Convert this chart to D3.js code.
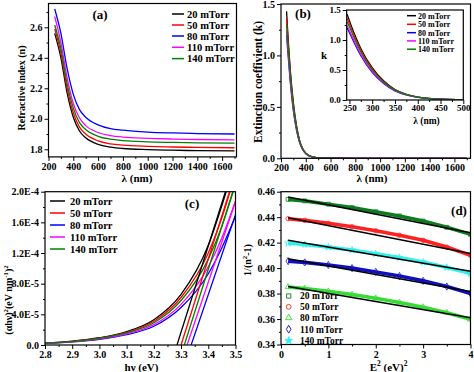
<!DOCTYPE html>
<html>
<head>
<meta charset="utf-8">
<script src="https://cdn.jsdelivr.net/npm/d3@7/dist/d3.min.js"></script>
<style>
body { margin: 0; background: #fff; }
svg text { font-family: "Liberation Serif", "Times New Roman", serif; font-weight: bold; fill: #000; }
</style>
</head>
<body>
<svg id="chart" width="474" height="372"></svg>
<script>
// ---- data ----
var seriesNames = ["20 mTorr", "50 mTorr", "80 mTorr", "110 mTorr", "140 mTorr"];
var lineColors = ["#000000", "#ff0000", "#0000ff", "#ff00ff", "#008000"];

// (a) refractive index n vs wavelength
var lambdaN = [250, 300, 350, 400, 450, 500, 600, 700, 800, 1000, 1200, 1400, 1700];
var n20 = [2.56, 2.40, 2.17, 2.01, 1.92, 1.875, 1.832, 1.814, 1.805, 1.798, 1.794, 1.791, 1.789];
var n50 = [2.59, 2.43, 2.20, 2.04, 1.945, 1.90, 1.855, 1.836, 1.827, 1.819, 1.815, 1.812, 1.810];
var n80 = [2.72, 2.56, 2.33, 2.16, 2.06, 2.01, 1.96, 1.935, 1.925, 1.913, 1.907, 1.903, 1.900];
var n110 = [2.67, 2.50, 2.27, 2.10, 2.005, 1.955, 1.91, 1.89, 1.88, 1.872, 1.867, 1.864, 1.862];
var n140 = [2.615, 2.46, 2.23, 2.07, 1.975, 1.93, 1.885, 1.866, 1.857, 1.849, 1.845, 1.842, 1.840];

// (b) extinction coefficient k vs wavelength
var lambdaK = [245, 250, 260, 275, 300, 325, 350, 375, 400, 450, 500, 600, 800, 1000, 1200, 1400, 1700];
var k20 = [1.43, 1.32, 1.12, 0.86, 0.54, 0.32, 0.175, 0.095, 0.05, 0.015, 0.005, 0.001, 0, 0, 0, 0, 0];
var k50 = [1.36, 1.27, 1.08, 0.83, 0.52, 0.31, 0.17, 0.092, 0.049, 0.015, 0.005, 0.001, 0, 0, 0, 0, 0];
var k80 = [1.20, 1.12, 0.96, 0.74, 0.46, 0.275, 0.152, 0.083, 0.045, 0.014, 0.005, 0.001, 0, 0, 0, 0, 0];
var k110 = [1.24, 1.16, 0.99, 0.76, 0.475, 0.285, 0.157, 0.086, 0.046, 0.014, 0.005, 0.001, 0, 0, 0, 0, 0];
var k140 = [1.30, 1.22, 1.04, 0.80, 0.50, 0.30, 0.165, 0.09, 0.048, 0.015, 0.005, 0.001, 0, 0, 0, 0, 0];

// (c) Tauc plot
var hv = [2.8, 2.9, 3.0, 3.1, 3.2, 3.3, 3.4, 3.45, 3.5];
var t20 = [0.25e-5, 0.5e-5, 0.95e-5, 1.75e-5, 3.3e-5, 6.6e-5, 1.30e-4, 1.82e-4, 2.40e-4];
var t50 = [0.24e-5, 0.48e-5, 0.9e-5, 1.65e-5, 3.1e-5, 6.2e-5, 1.20e-4, 1.66e-4, 2.25e-4];
var t80 = [0.2e-5, 0.4e-5, 0.75e-5, 1.35e-5, 2.45e-5, 4.9e-5, 0.93e-4, 1.27e-4, 1.68e-4];
var t110 = [0.21e-5, 0.42e-5, 0.8e-5, 1.45e-5, 2.65e-5, 5.3e-5, 1.02e-4, 1.40e-4, 1.88e-4];
var t140 = [0.22e-5, 0.45e-5, 0.87e-5, 1.58e-5, 2.9e-5, 5.8e-5, 1.12e-4, 1.55e-4, 2.10e-4];
var bandGap = [3.285, 3.300, 3.337, 3.322, 3.312];
var fitEndHv = [3.463, 3.478, 3.5, 3.5, 3.49];
var fitEndVal = [2.0e-4, 2.0e-4, 1.70e-4, 1.87e-4, 2.0e-4];
var tTicks = [0, 4e-5, 8e-5, 1.2e-4, 1.6e-4, 2e-4];
var tTickLabels = ["0.0", "4.0E-5", "8.0E-5", "1.2E-4", "1.6E-4", "2.0E-4"];

// (d) Wemple-DiDomenico
var e2 = [0.15, 0.5, 1.0, 1.5, 2.0, 2.5, 3.0, 3.5, 4.0];
var w20 = [0.4540, 0.4528, 0.4502, 0.4475, 0.4443, 0.4410, 0.4370, 0.4320, 0.4265];
var w50 = [0.4388, 0.4375, 0.4352, 0.4325, 0.4293, 0.4258, 0.4218, 0.4165, 0.4100];
var w80 = [0.3852, 0.3840, 0.3818, 0.3793, 0.3763, 0.3730, 0.3693, 0.3650, 0.3598];
var w110 = [0.4055, 0.4045, 0.4025, 0.4000, 0.3970, 0.3938, 0.3900, 0.3855, 0.3800];
var w140 = [0.4195, 0.4185, 0.4165, 0.4142, 0.4113, 0.4083, 0.4047, 0.4005, 0.3958];
var fitStart = [0.4558, 0.4395, 0.3855, 0.4073, 0.4218];
var fitEnd = [0.4278, 0.4115, 0.3610, 0.3817, 0.3976];
var wColors = ["#0a7d1e", "#ff2020", "#33dd33", "#1010c0", "#30f0f0"];
var wSymbols = [d3.symbolSquare, d3.symbolCircle, d3.symbolTriangle, d3.symbolDiamond, d3.symbolStar];

var svg = d3.select("#chart");

// ---- helpers ----
function panel(id, xs, ys, xMajor, xMinor, yMajor, yMinor, xFmt, yFmt, fs) {
    var xr = xs.range(), yr = ys.range();
    var pad = fs ? 1 : 2;
    svg.append("clipPath").attr("id", id).append("rect")
        .attr("x", xr[0]).attr("y", yr[1])
        .attr("width", xr[1] - xr[0]).attr("height", yr[0] - yr[1]);
    var g = svg.append("g");
    var bx = g.append("g").attr("transform", "translate(0," + yr[0] + ")");
    bx.append("g").call(d3.axisBottom(xs).tickValues(xMinor).tickSize(2).tickFormat(""));
    bx.append("g").call(d3.axisBottom(xs).tickValues(xMajor).tickSize(4).tickPadding(pad).tickFormat(xFmt));
    var ly = g.append("g").attr("transform", "translate(" + xr[0] + ",0)");
    ly.append("g").call(d3.axisLeft(ys).tickValues(yMinor).tickSize(2).tickFormat(""));
    ly.append("g").call(d3.axisLeft(ys).tickValues(yMajor).tickSize(4).tickPadding(2).tickFormat(yFmt));
    g.selectAll(".domain").remove();
    g.selectAll(".tick line").attr("stroke", "#000").attr("stroke-width", 1);
    g.selectAll("g").attr("font-family", null).attr("font-size", null);
    g.selectAll(".tick text").style("font-size", (fs || 10) + "px");
    var plot = svg.append("g").attr("clip-path", "url(#" + id + ")");
    svg.append("rect")
        .attr("x", xr[0]).attr("y", yr[1])
        .attr("width", xr[1] - xr[0]).attr("height", yr[0] - yr[1])
        .attr("fill", "none").attr("stroke", "#000").attr("stroke-width", 1.2);
    return plot;
}

function richText(x, y, parts, size, rotate) {
    var t = svg.append("text").attr("text-anchor", "middle").style("font-size", size + "px");
    if (rotate) t.attr("transform", "translate(" + x + "," + y + ") rotate(-90)");
    else t.attr("x", x).attr("y", y);
    var raised = false;
    parts.forEach(function (p) {
        var s = t.append("tspan").text(p[0]);
        if (p[1] && !raised) { s.attr("dy", -size * 0.4).style("font-size", (size * 0.68) + "px"); raised = true; }
        else if (p[1]) { s.style("font-size", (size * 0.68) + "px"); }
        else if (raised) { s.attr("dy", size * 0.4); raised = false; }
    });
    return t;
}

function lineLegend(x0, x1, tx, rows, fs) {
    seriesNames.forEach(function (name, i) {
        svg.append("line").attr("x1", x0).attr("x2", x1).attr("y1", rows[i]).attr("y2", rows[i])
            .attr("stroke", lineColors[i]).attr("stroke-width", 1.5);
        svg.append("text").attr("x", tx).attr("y", rows[i]).attr("dy", "0.35em")
            .style("font-size", fs + "px").text(name);
    });
}

function drawCurves(plot, xs, ys, xv, sets, width) {
    var line = d3.line().curve(d3.curveMonotoneX)
        .x(function (d, j) { return xs(xv[j]); })
        .y(function (d) { return ys(d); });
    sets.forEach(function (vals, i) {
        plot.append("path").datum(vals).attr("d", line)
            .attr("fill", "none").attr("stroke", lineColors[i]).attr("stroke-width", width);
    });
}

var f1 = d3.format(".1f");

// ---- (a) ----
var xa = d3.scaleLinear().domain([200, 1716]).range([48.5, 236.5]);
var ya = d3.scaleLinear().domain([1.75, 2.756]).range([156.9, 3.5]);
var pa = panel("clipA", xa, ya, d3.range(200, 1601, 200), d3.range(300, 1701, 200),
    [1.8, 2.0, 2.2, 2.4, 2.6], [1.9, 2.1, 2.3, 2.5, 2.7], d3.format("d"), f1);
drawCurves(pa, xa, ya, lambdaN, [n20, n50, n80, n110, n140], 1.3);
lineLegend(172, 184, 187, [14, 25, 36, 47.3, 58.6], 10.5);
svg.append("text").attr("x", 100).attr("y", 14).attr("dy", "0.35em").attr("text-anchor", "middle")
    .style("font-size", "13px").text("(a)");
richText(21.5, 88, [["Refractive index (n)"]], 10, true).attr("dy", "0.35em");
richText(137, 178, [["λ (nm)"]], 11, false).attr("dy", "0.35em");

// ---- (b) ----
var xb = d3.scaleLinear().domain([200, 1730]).range([281, 470.5]);
var yb = d3.scaleLinear().domain([0, 1.5]).range([158.3, 4]);
var pb = panel("clipB", xb, yb, d3.range(200, 1601, 200), d3.range(300, 1701, 200),
    [0, 0.5, 1.0, 1.5], [0.25, 0.75, 1.25], d3.format("d"), f1);
drawCurves(pb, xb, yb, lambdaK, [k20, k50, k80, k110, k140], 1.3);
svg.append("text").attr("x", 303).attr("y", 13.5).attr("dy", "0.35em").attr("text-anchor", "middle")
    .style("font-size", "13px").text("(b)");
richText(257.5, 82, [["Extinction coeffivient (k)"]], 11.5, true).attr("dy", "0.35em");
richText(372, 178, [["λ (nm)"]], 11, false).attr("dy", "0.35em");

// inset
var xi = d3.scaleLinear().domain([244, 500]).range([346.7, 463.3]);
var yi = d3.scaleLinear().domain([0, 1.5]).range([100, 10]);
svg.append("rect").attr("x", 346.7).attr("y", 10).attr("width", 116.6).attr("height", 90).attr("fill", "#fff");
var pi = panel("clipI", xi, yi, d3.range(250, 501, 50), d3.range(275, 476, 50),
    [0, 0.5, 1.0, 1.5], [0.25, 0.75, 1.25], d3.format("d"), f1, 9);
drawCurves(pi, xi, yi, lambdaK, [k20, k50, k80, k110, k140], 1.2);
lineLegend(407, 416, 418, [15.7, 24.3, 32.7, 40.9, 49.2], 8);
richText(324, 55, [["k"]], 11, false).attr("dy", "0.35em");
richText(426.5, 120.5, [["λ (nm)"]], 9.5, false).attr("dy", "0.35em");

// ---- (c) ----
var xc = d3.scaleLinear().domain([2.8, 3.5]).range([45, 235.5]);
var yc = d3.scaleLinear().domain([0, 2e-4]).range([345, 191.7]);
var pc = panel("clipC", xc, yc, d3.range(2.8, 3.501, 0.1), d3.range(2.85, 3.46, 0.1),
    tTicks, [2e-5, 6e-5, 1e-4, 1.4e-4, 1.8e-4], f1,
    function (d, i) { return tTickLabels[i]; });
drawCurves(pc, xc, yc, hv, [t20, t50, t80, t110, t140], 1.3);
bandGap.forEach(function (eg, i) {
    pc.append("line").attr("x1", xc(eg)).attr("y1", yc(0))
        .attr("x2", xc(fitEndHv[i])).attr("y2", yc(fitEndVal[i]))
        .attr("stroke", lineColors[i]).attr("stroke-width", 1.3);
});
lineLegend(50, 65, 70, [201, 213, 225, 237, 249], 10.5);
svg.append("text").attr("x", 192).attr("y", 203).attr("dy", "0.35em").attr("text-anchor", "middle")
    .style("font-size", "13px").text("(c)");
richText(8, 300, [["(αhν)"], ["2", 1], ["(eV nm"], ["-1", 1], [")"], ["2", 1]], 10, true).attr("dy", "0.35em");
richText(141.5, 367, [["hν (eV)"]], 11, false).attr("dy", "0.35em");

// ---- (d) ----
var xd = d3.scaleLinear().domain([0, 4]).range([281, 470.5]);
var yd = d3.scaleLinear().domain([0.34, 0.46]).range([344.5, 191.7]);
var pd = panel("clipD", xd, yd, [0, 1, 2, 3, 4], [0.5, 1.5, 2.5, 3.5],
    d3.range(0.34, 0.4601, 0.02), d3.range(0.35, 0.456, 0.02), d3.format("d"), d3.format(".2f"));
var wLine = d3.line().x(function (d, j) { return xd(e2[j]); }).y(function (d) { return yd(d); });
[w20, w50, w80, w110, w140].forEach(function (vals, i) {
    pd.append("path").datum(vals).attr("d", wLine).attr("fill", "none")
        .attr("stroke", wColors[i]).attr("stroke-width", 3.6);
    pd.selectAll(null).data(vals).enter().append("path")
        .attr("transform", function (d, j) { return "translate(" + xd(e2[j]) + "," + yd(d) + ")"; })
        .attr("d", d3.symbol().type(wSymbols[i]).size(15))
        .attr("fill", "none").attr("stroke", wColors[i]).attr("stroke-width", 0.8);
});
fitStart.forEach(function (v, i) {
    pd.append("line").attr("x1", xd(e2[0])).attr("y1", yd(v))
        .attr("x2", xd(e2[e2.length - 1])).attr("y2", yd(fitEnd[i]))
        .attr("stroke", "#000").attr("stroke-width", 1.5);
});
var dRows = [296, 306.8, 317.8, 329.2, 340.6];
seriesNames.forEach(function (name, i) {
    svg.append("path").attr("transform", "translate(288.7," + dRows[i] + ")")
        .attr("d", d3.symbol().type(wSymbols[i]).size(18))
        .attr("fill", i === 4 ? wColors[i] : "none").attr("stroke", wColors[i]).attr("stroke-width", 0.9);
    svg.append("text").attr("x", 300).attr("y", dRows[i]).attr("dy", "0.35em")
        .style("font-size", "9.5px").text(name);
});
svg.append("text").attr("x", 459).attr("y", 210).attr("dy", "0.35em").attr("text-anchor", "middle")
    .style("font-size", "13px").text("(d)");
richText(247, 260, [["1/(n"], ["2", 1], ["-1)"]], 10, true).attr("dy", "0.35em");
richText(388.5, 367, [["E"], ["2", 1], [" (eV)"], ["2", 1]], 11, false).attr("dy", "0.35em");
</script>
</body>
</html>
